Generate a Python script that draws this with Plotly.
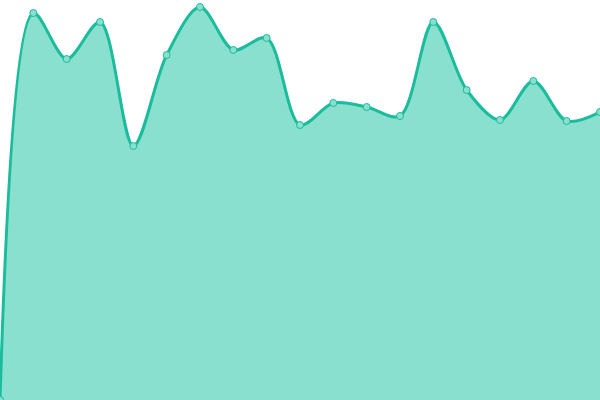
import plotly.graph_objects as go

idx = list(range(19))
values = [0, 387, 341, 378, 254, 345, 393, 350, 362, 275, 297, 293, 284, 378, 310, 280, 319, 279, 288]

fig = go.Figure()
fig.add_trace(go.Scatter(
    x=idx, y=values,
    mode='lines+markers',
    line=dict(color='#1abc9c', width=3, shape='spline', smoothing=0.9),
    fill='tozeroy',
    fillcolor='#89e0cf',
    marker=dict(size=7, color='#89e0cf', line=dict(color='#1abc9c', width=1)),
    cliponaxis=False,
))
fig.update_layout(
    width=600, height=400,
    margin=dict(l=0, r=0, t=0, b=0),
    paper_bgcolor='white', plot_bgcolor='white',
    showlegend=False,
    xaxis=dict(range=[0, 18], visible=False),
    yaxis=dict(range=[0, 400], visible=False),
)
# drop the default body margin so the chart fills the window
fig.write_html("out.html", config={'displayModeBar': False},
               post_script="document.body.style.margin='0';document.body.style.overflow='hidden';")
